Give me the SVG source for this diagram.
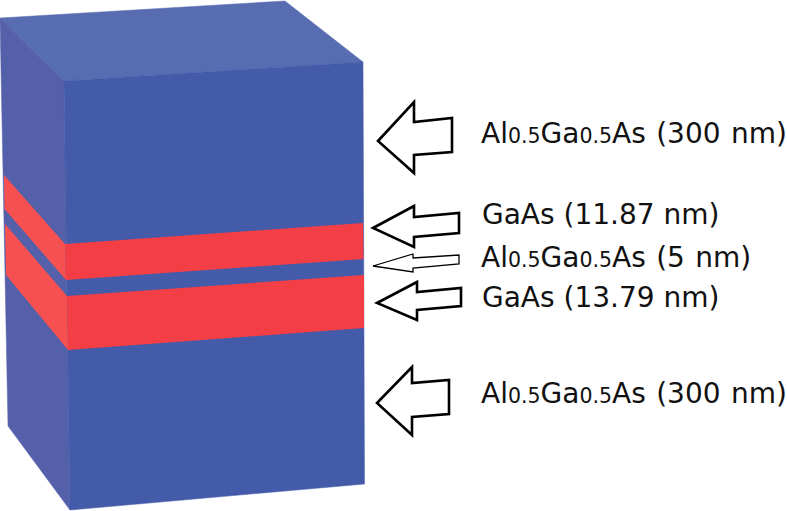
<svg xmlns="http://www.w3.org/2000/svg" width="787" height="511" viewBox="0 0 787 511">
<style>
.front{fill:#435ba8;stroke:#435ba8;stroke-width:.5}
.top{fill:#586cb1;stroke:#586cb1;stroke-width:.5}
.left{fill:#5560aa;stroke:#5560aa;stroke-width:.5}
.red{fill:#f43e46}
.redl{fill:#f65050}
.arrow{fill:#fff;stroke:#000;stroke-width:2.6;stroke-linejoin:miter}
.thin{stroke-width:1.3}
text{font-family:"DejaVu Sans","Liberation Sans",sans-serif;font-size:28px;fill:#111}
.al{word-spacing:1.5px}
.sub{font-size:20.5px}
</style>
<rect width="787" height="511" fill="#fff"/>
<g id="block">
<polygon class="top" points="0,18 285,1 363,62 64,81"/>
<polygon class="left" points="0,18 64,81 70,510 8,426"/>
<polygon class="front" points="64,81 363,62 364.5,484 70,510"/>
</g>
<g id="layers">
<polygon class="redl" points="4,175 65,244 66,280 4.500,209"/>
<polygon class="redl" points="5,224 67,296 68,350 6,275"/>
<polygon class="red" points="65,244 363,223 363.500,259 66,280"/>
<polygon class="red" points="67,296 364,275 364,328 68,350"/>
</g>
<g id="arrows">
<polygon id="arrow1" class="arrow" points="378,141 414,102 414,122 452,118 452,152 414,155 414,173"/>
<polygon id="arrow2" class="arrow" points="373,228 414,206 414,217 459,213 459,233 414,237 414,247"/>
<polygon id="arrow3" class="arrow thin" points="373,266 413,254 413,258 459,255 459,264 413,268 413,272"/>
<polygon id="arrow4" class="arrow" points="377,303 417,282 417,292 461,288 461,306 417,310 417,320"/>
<polygon id="arrow5" class="arrow" points="377,403 412,367 412,383 449,380 449,414 412,417 412,435"/>
</g>
<g id="labels">
<text id="label1" class="al" x="481" y="143">Al<tspan class="sub">0.5</tspan>Ga<tspan class="sub">0.5</tspan>As (300 nm)</text>
<text id="label2" x="482" y="224">GaAs (11.87 nm)</text>
<text id="label3" class="al" x="481" y="267">Al<tspan class="sub">0.5</tspan>Ga<tspan class="sub">0.5</tspan>As (5 nm)</text>
<text id="label4" x="482" y="307">GaAs (13.79 nm)</text>
<text id="label5" class="al" x="481" y="403">Al<tspan class="sub">0.5</tspan>Ga<tspan class="sub">0.5</tspan>As (300 nm)</text>
</g>
</svg>
